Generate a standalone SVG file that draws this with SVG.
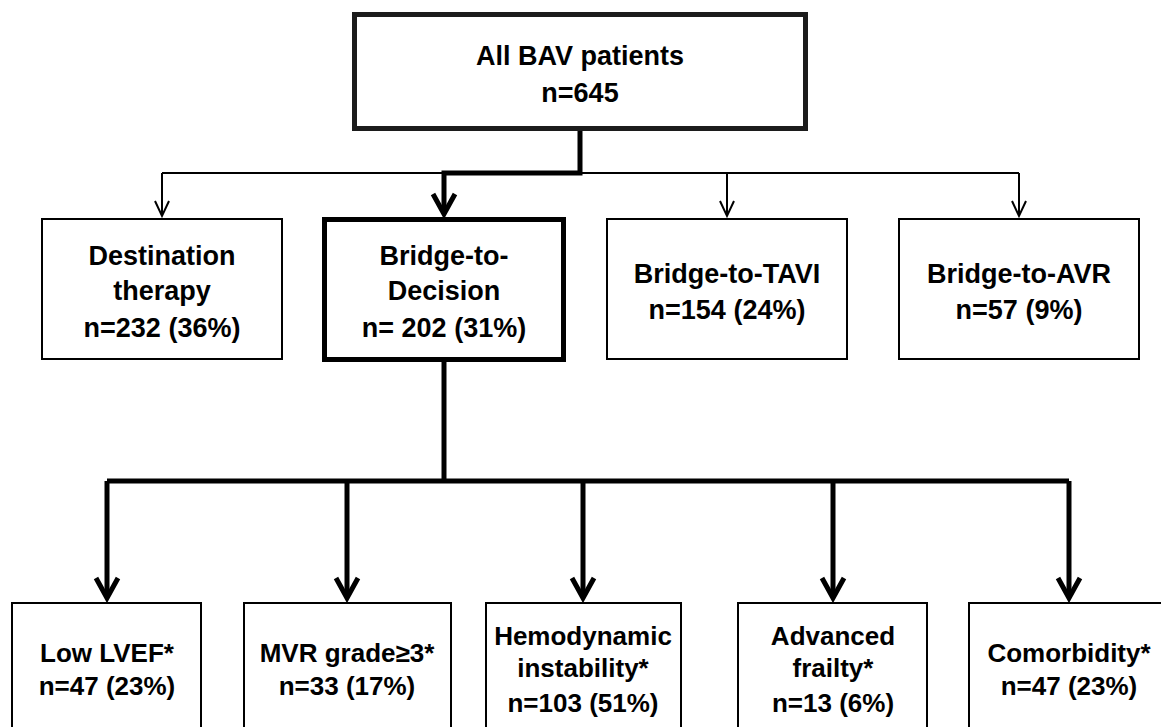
<svg xmlns="http://www.w3.org/2000/svg" width="1161" height="727" viewBox="0 0 1161 727">
<style>
.box{fill:#fff;stroke:#000;stroke-width:2}
.thickbox{fill:#fff;stroke:#000;stroke-width:5}
.t{font-family:"Liberation Sans",Arial,sans-serif;font-weight:bold;font-size:27px;fill:#000;text-anchor:middle}
.s{font-size:26px}
.thin{fill:none;stroke:#000;stroke-width:2}
.thick{fill:none;stroke:#000;stroke-width:5;stroke-linejoin:miter}
</style>
<defs>
<filter id="soft" x="-5%" y="-5%" width="110%" height="110%"><feGaussianBlur stdDeviation="0.7"/></filter>
<marker id="vthin" markerUnits="userSpaceOnUse" markerWidth="20" markerHeight="20" viewBox="-17 -10 20 20" refX="0" refY="0" orient="auto">
<path d="M-15,-7 L0,0 L-15,7" fill="none" stroke="#000" stroke-width="2"/>
</marker>
<marker id="vthick" markerUnits="userSpaceOnUse" markerWidth="30" markerHeight="30" viewBox="-25 -15 30 30" refX="0" refY="0" orient="auto">
<path d="M-20,-11 L0,0 L-20,11" fill="none" stroke="#000" stroke-width="5"/>
</marker>
</defs>
<rect width="1161" height="727" fill="#fff"/>
<g id="connectors">
<path class="thin" d="M162,173 H1019"/>
<path class="thin" d="M162,173 V216" marker-end="url(#vthin)"/>
<path class="thin" d="M727,173 V216" marker-end="url(#vthin)"/>
<path class="thin" d="M1019,173 V216" marker-end="url(#vthin)"/>
<path class="thick" d="M580,131 V173 H444 V214" marker-end="url(#vthick)"/>
<path class="thick" d="M444,362 V481"/>
<path class="thick" d="M107,481 H1069"/>
<path class="thick" d="M107,481 V598" marker-end="url(#vthick)"/>
<path class="thick" d="M347,481 V598" marker-end="url(#vthick)"/>
<path class="thick" d="M583,481 V598" marker-end="url(#vthick)"/>
<path class="thick" d="M833,481 V598" marker-end="url(#vthick)"/>
<path class="thick" d="M1069,481 V598" marker-end="url(#vthick)"/>
</g>
<g id="all-bav">
<rect x="354.5" y="14.5" width="451" height="114" fill="#fff" stroke="#1a1a1a" stroke-width="5" filter="url(#soft)"/>
<text class="t" x="580" y="65">All BAV patients</text>
<text class="t" x="580" y="102">n=645</text>
</g>
<g id="destination">
<rect class="box" x="42" y="219" width="240" height="140"/>
<text class="t" x="162" y="265">Destination</text>
<text class="t" x="162" y="300">therapy</text>
<text class="t" x="162" y="337">n=232 (36%)</text>
</g>
<g id="bridge-decision">
<rect class="thickbox" x="324.5" y="219.5" width="239" height="140"/>
<text class="t" x="444" y="265">Bridge-to-</text>
<text class="t" x="444" y="300">Decision</text>
<text class="t" x="444" y="337">n= 202 (31%)</text>
</g>
<g id="bridge-tavi">
<rect class="box" x="607" y="219" width="240" height="140"/>
<text class="t" x="727" y="283">Bridge-to-TAVI</text>
<text class="t" x="727" y="319">n=154 (24%)</text>
</g>
<g id="bridge-avr">
<rect class="box" x="899" y="219" width="240" height="140"/>
<text class="t" x="1019" y="283">Bridge-to-AVR</text>
<text class="t" x="1019" y="319">n=57 (9%)</text>
</g>
<g id="low-lvef">
<rect class="box" x="12" y="603" width="189" height="140"/>
<text class="t s" x="107" y="662">Low LVEF*</text>
<text class="t s" x="107" y="695">n=47 (23%)</text>
</g>
<g id="mvr">
<rect class="box" x="244" y="603" width="207" height="140"/>
<text class="t s" x="347" y="662">MVR grade≥3*</text>
<text class="t s" x="347" y="695">n=33 (17%)</text>
</g>
<g id="hemodynamic">
<rect class="box" x="486" y="603" width="195" height="140"/>
<text class="t s" x="583" y="645">Hemodynamic</text>
<text class="t s" x="583" y="677">instability*</text>
<text class="t s" x="583" y="712">n=103 (51%)</text>
</g>
<g id="frailty">
<rect class="box" x="738" y="603" width="189" height="140"/>
<text class="t s" x="833" y="645">Advanced</text>
<text class="t s" x="833" y="677">frailty*</text>
<text class="t s" x="833" y="712">n=13 (6%)</text>
</g>
<g id="comorbidity">
<rect class="box" x="969" y="603" width="202" height="140"/>
<text class="t s" x="1069" y="662">Comorbidity*</text>
<text class="t s" x="1069" y="695">n=47 (23%)</text>
</g>
</svg>
